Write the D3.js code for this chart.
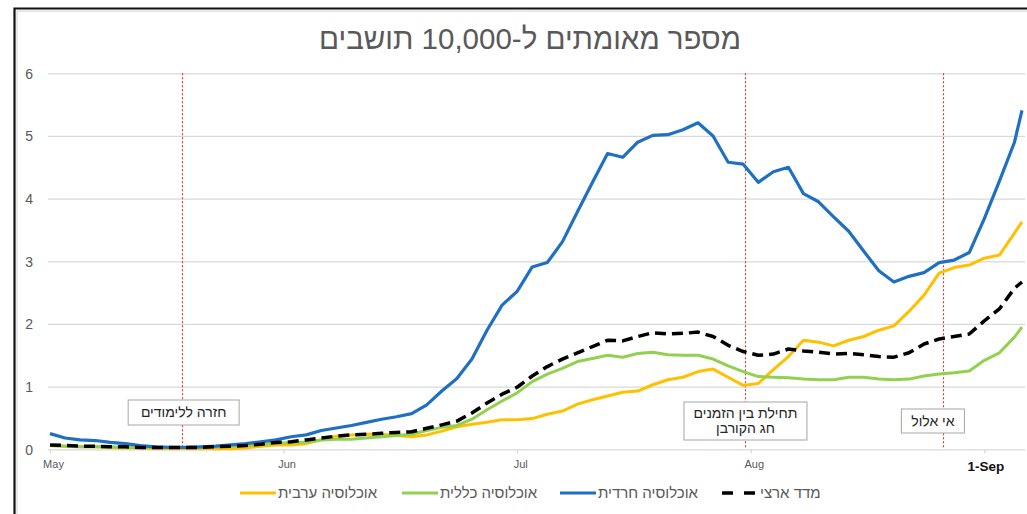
<!DOCTYPE html>
<html><head><meta charset="utf-8">
<script src="https://cdn.jsdelivr.net/npm/d3@7"></script>
<style>body{margin:0;background:#fff}svg{display:block}text{font-family:'Liberation Sans',Arial,sans-serif}</style>
</head><body><svg id="c" width="1027" height="514"></svg>
<script>
// ---- data (day index from 1 May) ----
const days = [0,2,4,6,8,10,12,14,16,18,20,22,24,26,28,30,32,34,36,38,40,42,44,46,48,50,52,54,56,58,60,62,64,66,68,70,72,74,76,78,80,82,84,86,88,90,92,94,96,98,100,102,104,106,108,110,112,114,116,118,120,122,124,126,128,129];
const haredi = [0.25,0.18,0.15,0.14,0.11,0.09,0.06,0.04,0.03,0.03,0.04,0.05,0.07,0.09,0.12,0.15,0.20,0.23,0.30,0.34,0.38,0.43,0.48,0.52,0.57,0.71,0.93,1.13,1.44,1.90,2.30,2.52,2.91,2.98,3.31,3.79,4.26,4.72,4.66,4.90,5.01,5.02,5.10,5.21,5.00,4.58,4.55,4.26,4.43,4.50,4.08,3.95,3.71,3.48,3.16,2.85,2.67,2.76,2.82,2.98,3.02,3.14,3.68,4.28,4.90,5.41];
const general = [0.06,0.05,0.04,0.04,0.04,0.03,0.03,0.03,0.03,0.03,0.03,0.04,0.05,0.06,0.08,0.10,0.105,0.115,0.15,0.16,0.16,0.18,0.20,0.22,0.24,0.30,0.35,0.38,0.48,0.63,0.77,0.90,1.08,1.20,1.29,1.40,1.45,1.50,1.47,1.53,1.55,1.51,1.50,1.50,1.44,1.33,1.24,1.16,1.15,1.14,1.12,1.11,1.11,1.15,1.15,1.12,1.11,1.12,1.17,1.20,1.22,1.25,1.42,1.54,1.79,1.95];
const arab = [0.06,0.05,0.04,0.04,0.03,0.02,0.02,0.01,0.01,0.01,0.01,0.01,0.01,0.02,0.05,0.07,0.07,0.09,0.15,0.21,0.23,0.24,0.24,0.22,0.20,0.23,0.29,0.36,0.40,0.43,0.47,0.47,0.49,0.56,0.61,0.72,0.79,0.85,0.91,0.93,1.03,1.11,1.15,1.24,1.28,1.15,1.02,1.05,1.27,1.48,1.74,1.71,1.65,1.74,1.80,1.90,1.97,2.20,2.46,2.81,2.90,2.94,3.05,3.10,3.45,3.63];
const national = [0.07,0.06,0.05,0.05,0.04,0.04,0.03,0.03,0.03,0.03,0.03,0.04,0.05,0.06,0.08,0.11,0.12,0.15,0.18,0.21,0.23,0.24,0.255,0.27,0.28,0.335,0.39,0.45,0.58,0.74,0.88,0.99,1.17,1.32,1.44,1.54,1.64,1.74,1.73,1.80,1.86,1.84,1.85,1.87,1.80,1.66,1.56,1.50,1.52,1.60,1.57,1.55,1.52,1.53,1.51,1.48,1.47,1.54,1.68,1.76,1.80,1.84,2.05,2.24,2.57,2.67];
const monthTicks = [0,31,62,93,124];
const monthLabels = ["May","Jun","Jul","Aug","1-Sep"];
const yTicks = [0,1,2,3,4,5,6];
const eventDays = [17.5,92.3,118.5];
const eventLabels = [["חזרה ללימודים"],["תחילת בין הזמנים","חג הקורבן"],["אי אלול"]];
const seriesNames = ["אוכלוסיה ערבית","אוכלוסיה כללית","אוכלוסיה חרדית","מדד ארצי"];
const titleText = "מספר מאומתים ל-10,000 תושבים";

// ---- layout ----
const svg = d3.select("#c");
const x = d3.scaleLinear().domain([0,129]).range([50,1022]);
const y = d3.scaleLinear().domain([0,6]).range([449.3,73.3]);
const gridLeft = 48, gridRight = 1025;

// frame
svg.append("path").attr("d","M17,514V11H1027").attr("fill","none").attr("stroke","#d0d0d0").attr("stroke-width",1);
svg.append("path").attr("d","M14.5,514V8.5H1027").attr("fill","none").attr("stroke","#111").attr("stroke-width",2.2);

// title
svg.append("text").attr("x",530).attr("y",48.5).attr("text-anchor","middle")
  .attr("font-size",29.5).attr("fill","#595959").text(titleText);

// y axis + gridlines
const ya = svg.append("g").attr("transform",`translate(${gridLeft},0)`)
  .call(d3.axisLeft(y).tickValues(yTicks).tickSize(-(gridRight-gridLeft)).tickPadding(15).tickFormat(d3.format("d")));
ya.select(".domain").remove();
ya.selectAll(".tick line").attr("stroke","#d9d9d9").attr("stroke-width",1.3);
ya.selectAll(".tick text").attr("fill","#595959").attr("font-size",14).attr("font-family","'Liberation Sans',Arial,sans-serif").attr("dy","0.35em");

// x axis
const xa = svg.append("g").attr("transform",`translate(0,${y(0)})`)
  .call(d3.axisBottom(x).tickValues(monthTicks).tickFormat((d,i)=>monthLabels[i]).tickSizeInner(4).tickSizeOuter(0));
xa.select(".domain").remove();
xa.selectAll(".tick line").attr("stroke","#d9d9d9").attr("stroke-width",1.3);
xa.selectAll(".tick text").attr("fill","#595959").attr("font-size",11).attr("font-family","'Liberation Sans',Arial,sans-serif")
  .attr("y",10.5).attr("dx",3);
xa.selectAll(".tick text").filter((d,i)=>i===monthTicks.length-1)
  .attr("font-size",13.5).attr("font-weight","bold").attr("fill","#111").attr("y",12.5).attr("dx",1);

// event lines
svg.append("g").selectAll("line").data(eventDays).join("line")
  .attr("x1",d=>Math.round(x(d))+0.5).attr("x2",d=>Math.round(x(d))+0.5).attr("y1",y(6)).attr("y2",y(0))
  .attr("stroke","#ee2a2a").attr("stroke-width",1.1).attr("stroke-dasharray","2,2");

// series lines
const series = [
  {vals:arab, color:"#FFC000", w:3, dash:null},
  {vals:general, color:"#92D050", w:3, dash:null},
  {vals:haredi, color:"#1F70C1", w:3.2, dash:null},
  {vals:national, color:"#000", w:3.5, dash:"11,6"}
];
const line = d3.line().x((d,i)=>x(days[i])).y(d=>y(d));
series.forEach(s=>{
  svg.append("path").datum(s.vals).attr("d",line).attr("fill","none")
    .attr("stroke",s.color).attr("stroke-width",s.w).attr("stroke-linejoin","round")
    .attr("stroke-dasharray",s.dash);
});

// annotation boxes
const boxes = [{dx:1.8,y:400,w:111,h:25},{dx:0,y:402,w:123,h:38},{dx:-10,y:409,w:63,h:24}];
eventDays.forEach((d,i)=>{
  const b = boxes[i], cx = x(d)+b.dx;
  const g = svg.append("g");
  g.append("rect").attr("x",cx-b.w/2).attr("y",b.y).attr("width",b.w).attr("height",b.h)
    .attr("fill","#fff").attr("stroke","#a6a6a6").attr("stroke-width",1);
  const lines = eventLabels[i], lh = 15;
  lines.forEach((t,j)=>{
    g.append("text").attr("x",cx).attr("y",b.y+b.h/2+(j-(lines.length-1)/2)*lh)
      .attr("dy","0.35em").attr("text-anchor","middle").attr("font-size",14).attr("fill","#262626").text(t);
  });
});

// legend
const legX = [240,402,560,722];
series.forEach((s,i)=>{
  const lx = legX[i], ly = 493;
  svg.append("line").attr("x1",lx).attr("x2",lx+36).attr("y1",ly).attr("y2",ly)
    .attr("stroke",s.color).attr("stroke-width",s.w).attr("stroke-dasharray",s.dash?"11,11":null);
  svg.append("text").attr("x",lx+38).attr("y",ly).attr("dy","0.35em").attr("text-anchor","start")
    .attr("font-size",15).attr("fill","#595959").text(seriesNames[i]);
});
</script></body></html>
